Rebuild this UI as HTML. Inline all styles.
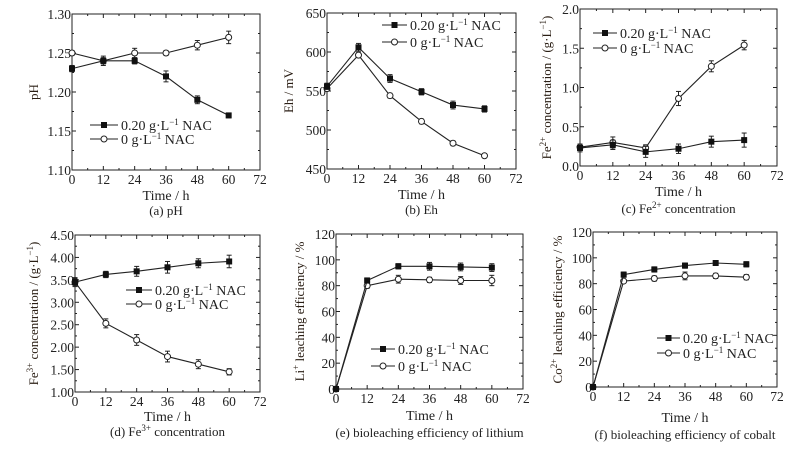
<!DOCTYPE html>
<html><head><meta charset="utf-8">
<style>
html,body{margin:0;padding:0;background:#fff;}
svg, svg text{font-family:"Liberation Serif","Times New Roman",serif;}
</style></head>
<body>
<svg id="fig" width="811" height="447" viewBox="0 0 811 447" xmlns="http://www.w3.org/2000/svg" font-family="Liberation Serif, serif"></svg>
<script>
const xTicks = [0,12,24,36,48,60,72];
const times = [0,12,24,36,48,60];

const aSquare = [1.23,1.24,1.24,1.22,1.19,1.17];
const aCircle = [1.25,1.24,1.25,1.25,1.26,1.27];
const aSqErr = [0.004,0.004,0.004,0.007,0.005,0.003];
const aCiErr = [0.003,0.006,0.006,0.003,0.006,0.008];
const aYTicks = ["1.10","1.15","1.20","1.25","1.30"];

const bSquare = [556,606,566,549,532,527];
const bCircle = [553,596,544,511,483,467];
const bSqErr = [4,5,5,4,5,4];
const bCiErr = [3,3,3,3,3,2];
const bYTicks = ["450","500","550","600","650"];

const cSquare = [0.23,0.27,0.18,0.22,0.31,0.33];
const cCircle = [0.24,0.30,0.23,0.86,1.27,1.54];
const cSqErr = [0.05,0.06,0.07,0.06,0.07,0.09];
const cCiErr = [0.04,0.07,0.04,0.09,0.07,0.06];
const cYTicks = ["0.0","0.5","1.0","1.5","2.0"];

const dSquare = [3.45,3.62,3.69,3.78,3.87,3.91];
const dCircle = [3.45,2.53,2.16,1.79,1.62,1.45];
const dSqErr = [0.1,0.07,0.11,0.13,0.1,0.14];
const dCiErr = [0.08,0.1,0.12,0.12,0.1,0.07];
const dYTicks = ["1.00","1.50","2.00","2.50","3.00","3.50","4.00","4.50"];

const eSquare = [0,84,95,95,94.5,94];
const eCircle = [0,80,85,84.5,84,84];
const eSqErr = [0,2,2,3,3,3];
const eCiErr = [0,2,3,2,3,4];
const eYTicks = ["0","20","40","60","80","100","120"];

const fSquare = [0,87,91,94,96,95];
const fCircle = [0,82,84,86,86,85];
const fSqErr = [0,2,2,2,1,2];
const fCiErr = [0,1,2,3,2,2];
const fYTicks = ["0","20","40","60","80","100","120"];

const NS = "http://www.w3.org/2000/svg";
const FONT = '"Liberation Serif", "Times New Roman", serif';
const svg = document.getElementById('fig');
function mk(tag, attrs, parent){
  const e = document.createElementNS(NS, tag);
  for (const k in attrs) e.setAttribute(k, attrs[k]);
  if (tag === 'text') e.style.fontFamily = FONT;
  (parent||svg).appendChild(e);
  return e;
}

function panel(p){
  const g = mk('g', {});
  
  
  const yT = p.yTicks.map(Number);
  const ymin = yT[0], ymax = yT[yT.length-1];
  const X = v => p.L + (v - 0) / 72 * (p.R - p.L);
  const Y = v => p.B - (v - ymin) / (ymax - ymin) * (p.B - p.T);
  const fr = mk('rect', {x:p.L, y:p.T, width:p.R-p.L, height:p.B-p.T, fill:'none', stroke:'#222', 'stroke-width':1}, g);
  
  
  xTicks.forEach((t,i) => {
    mk('line', {x1:X(t), x2:X(t), y1:p.B, y2:p.B-4, stroke:'#222'}, g);
    mk('line', {x1:X(t), x2:X(t), y1:p.T, y2:p.T+4, stroke:'#222'}, g);
    if (i < xTicks.length-1) {
      const m = t + 6;
      mk('line', {x1:X(m), x2:X(m), y1:p.B, y2:p.B-2, stroke:'#222'}, g);
      mk('line', {x1:X(m), x2:X(m), y1:p.T, y2:p.T+2, stroke:'#222'}, g);
    }
    const tx = mk('text', {x:X(t), y:p.B+14, 'text-anchor':'middle', 'font-size':13.5, fill:'#222'}, g);
    tx.textContent = t;
    
    
  });
  p.yTicks.forEach((s,i) => {
    const v = yT[i];
    mk('line', {x1:p.L, x2:p.L+4, y1:Y(v), y2:Y(v), stroke:'#222'}, g);
    mk('line', {x1:p.R, x2:p.R-4, y1:Y(v), y2:Y(v), stroke:'#222'}, g);
    if (i < yT.length-1) {
      const m = (v + yT[i+1]) / 2;
      mk('line', {x1:p.L, x2:p.L+2, y1:Y(m), y2:Y(m), stroke:'#222'}, g);
      mk('line', {x1:p.R, x2:p.R-2, y1:Y(m), y2:Y(m), stroke:'#222'}, g);
    }
    const ty = mk('text', {x:p.L-1, y:Y(v)+5, 'text-anchor':'end', 'font-size':13.5, fill:'#222'}, g);
    ty.textContent = s;
    
    
  });
  const xl = mk('text', {x:(p.L+p.R)/2, y:p.xl, 'text-anchor':'middle', 'font-size':14, fill:'#222'}, g);
  xl.textContent = 'Time / h';
  
  
  const yl = mk('text', {x:0, y:0, 'text-anchor':'middle', 'font-size':13, fill:'#2a1e14', transform:`translate(${p.yx},${(p.T+p.B)/2}) rotate(-90)`}, g);
  yl.innerHTML = p.yTitle;
  
  
  const cap = mk('text', {x:(p.L+p.R)/2, y:p.cap, 'text-anchor':'middle', 'font-size':13, fill:'#222'}, g);
  cap.innerHTML = p.caption;
  
  
  const series = [
    {vals:p.sq, err:p.sqErr, filled:true, name:'series-0.20-nac'},
    {vals:p.ci, err:p.ciErr, filled:false, name:'series-0-nac'}
  ];
  series.slice().reverse().forEach(s => {
    const sg = mk('g', {}, g);
    
    
    mk('polyline', {points:times.map((t,i)=>X(t)+','+Y(s.vals[i])).join(' '), fill:'none', stroke:'#222', 'stroke-width':1.1}, sg);
    times.forEach((t,i) => {
      const x = X(t), y = Y(s.vals[i]);
      if (s.err[i] > 0) {
        const e = s.err[i];
        mk('line', {x1:x, x2:x, y1:Y(s.vals[i]-e), y2:Y(s.vals[i]+e), stroke:'#222'}, sg);
        mk('line', {x1:x-2.5, x2:x+2.5, y1:Y(s.vals[i]-e), y2:Y(s.vals[i]-e), stroke:'#222'}, sg);
        mk('line', {x1:x-2.5, x2:x+2.5, y1:Y(s.vals[i]+e), y2:Y(s.vals[i]+e), stroke:'#222'}, sg);
      }
      let m;
      if (s.filled) m = mk('rect', {x:x-3, y:y-3, width:6, height:6, fill:'#111'}, sg);
      else m = mk('circle', {cx:x, cy:y, r:3, fill:'#fff', stroke:'#222', 'stroke-width':1}, sg);
      
      
    });
  });
  const lg = mk('g', {}, g);
  
  
  const labels = ['0.20 g·L<tspan font-size="9" dy="-5">−1</tspan><tspan dy="5"> NAC</tspan>', '0 g·L<tspan font-size="9" dy="-5">−1</tspan><tspan dy="5"> NAC</tspan>'];
  [0,1].forEach(k => {
    const y = p.lg[2+k];
    const le = mk('g', {}, lg);
    
    
    mk('line', {x1:p.lg[0], x2:p.lg[1], y1:y, y2:y, stroke:'#222', 'stroke-width':1.1}, le);
    const cx = (p.lg[0]+p.lg[1])/2;
    if (k===0) mk('rect', {x:cx-3, y:y-3, width:6, height:6, fill:'#111'}, le);
    else mk('circle', {cx:cx, cy:y, r:3, fill:'#fff', stroke:'#222', 'stroke-width':1}, le);
    const t = mk('text', {x:p.lg[1]+3, y:y+5, 'font-size':14, fill:'#222'}, le);
    t.innerHTML = labels[k];
  });
}

panel({id:'ph', L:72, R:260, T:14, B:170, yTicks:aYTicks, sq:aSquare, ci:aCircle, sqErr:aSqErr, ciErr:aCiErr,
  yTitle:'pH', yx:38, xl:200, cap:215, caption:'(a) pH', lg:[90,118,125,139]});
panel({id:'eh', L:327, R:516, T:13, B:169, yTicks:bYTicks, sq:bSquare, ci:bCircle, sqErr:bSqErr, ciErr:bCiErr,
  yTitle:'Eh / mV', yx:293, xl:199, cap:214, caption:'(b) Eh', lg:[382,407,25,42]});
panel({id:'fe2', L:580, R:777, T:9, B:166, yTicks:cYTicks, sq:cSquare, ci:cCircle, sqErr:cSqErr, ciErr:cCiErr,
  yTitle:'Fe<tspan font-size="9" dy="-5">2+</tspan><tspan dy="5"> concentration / (g·L</tspan><tspan font-size="9" dy="-5">−1</tspan><tspan dy="5">)</tspan>', yx:551, xl:196, cap:213, caption:'(c) Fe<tspan font-size="9" dy="-5">2+</tspan><tspan dy="5"> concentration</tspan>', lg:[593,617,33,48]});
panel({id:'fe3', L:75, R:260, T:235, B:392, yTicks:dYTicks, sq:dSquare, ci:dCircle, sqErr:dSqErr, ciErr:dCiErr,
  yTitle:'Fe<tspan font-size="9" dy="-5">3+</tspan><tspan dy="5"> concentration / (g·L</tspan><tspan font-size="9" dy="-5">−1</tspan><tspan dy="5">)</tspan>', yx:38, xl:421, cap:436, caption:'(d) Fe<tspan font-size="9" dy="-5">3+</tspan><tspan dy="5"> concentration</tspan>', lg:[126,152,290,304]});
panel({id:'li', L:336, R:523, T:234, B:389, yTicks:eYTicks, sq:eSquare, ci:eCircle, sqErr:eSqErr, ciErr:eCiErr,
  yTitle:'Li<tspan font-size="9" dy="-5">+</tspan><tspan dy="5"> leaching efficiency / %</tspan>', yx:304, xl:420, cap:437, caption:'(e) bioleaching efficiency of lithium', lg:[371,395,349,366]});
panel({id:'co', L:593, R:777, T:232, B:387, yTicks:fYTicks, sq:fSquare, ci:fCircle, sqErr:fSqErr, ciErr:fCiErr,
  yTitle:'Co<tspan font-size="9" dy="-5">2+</tspan><tspan dy="5"> leaching efficiency / %</tspan>', yx:562, xl:422, cap:439, caption:'(f) bioleaching efficiency of cobalt', lg:[657,680,338,353]});
</script>
</body></html>
